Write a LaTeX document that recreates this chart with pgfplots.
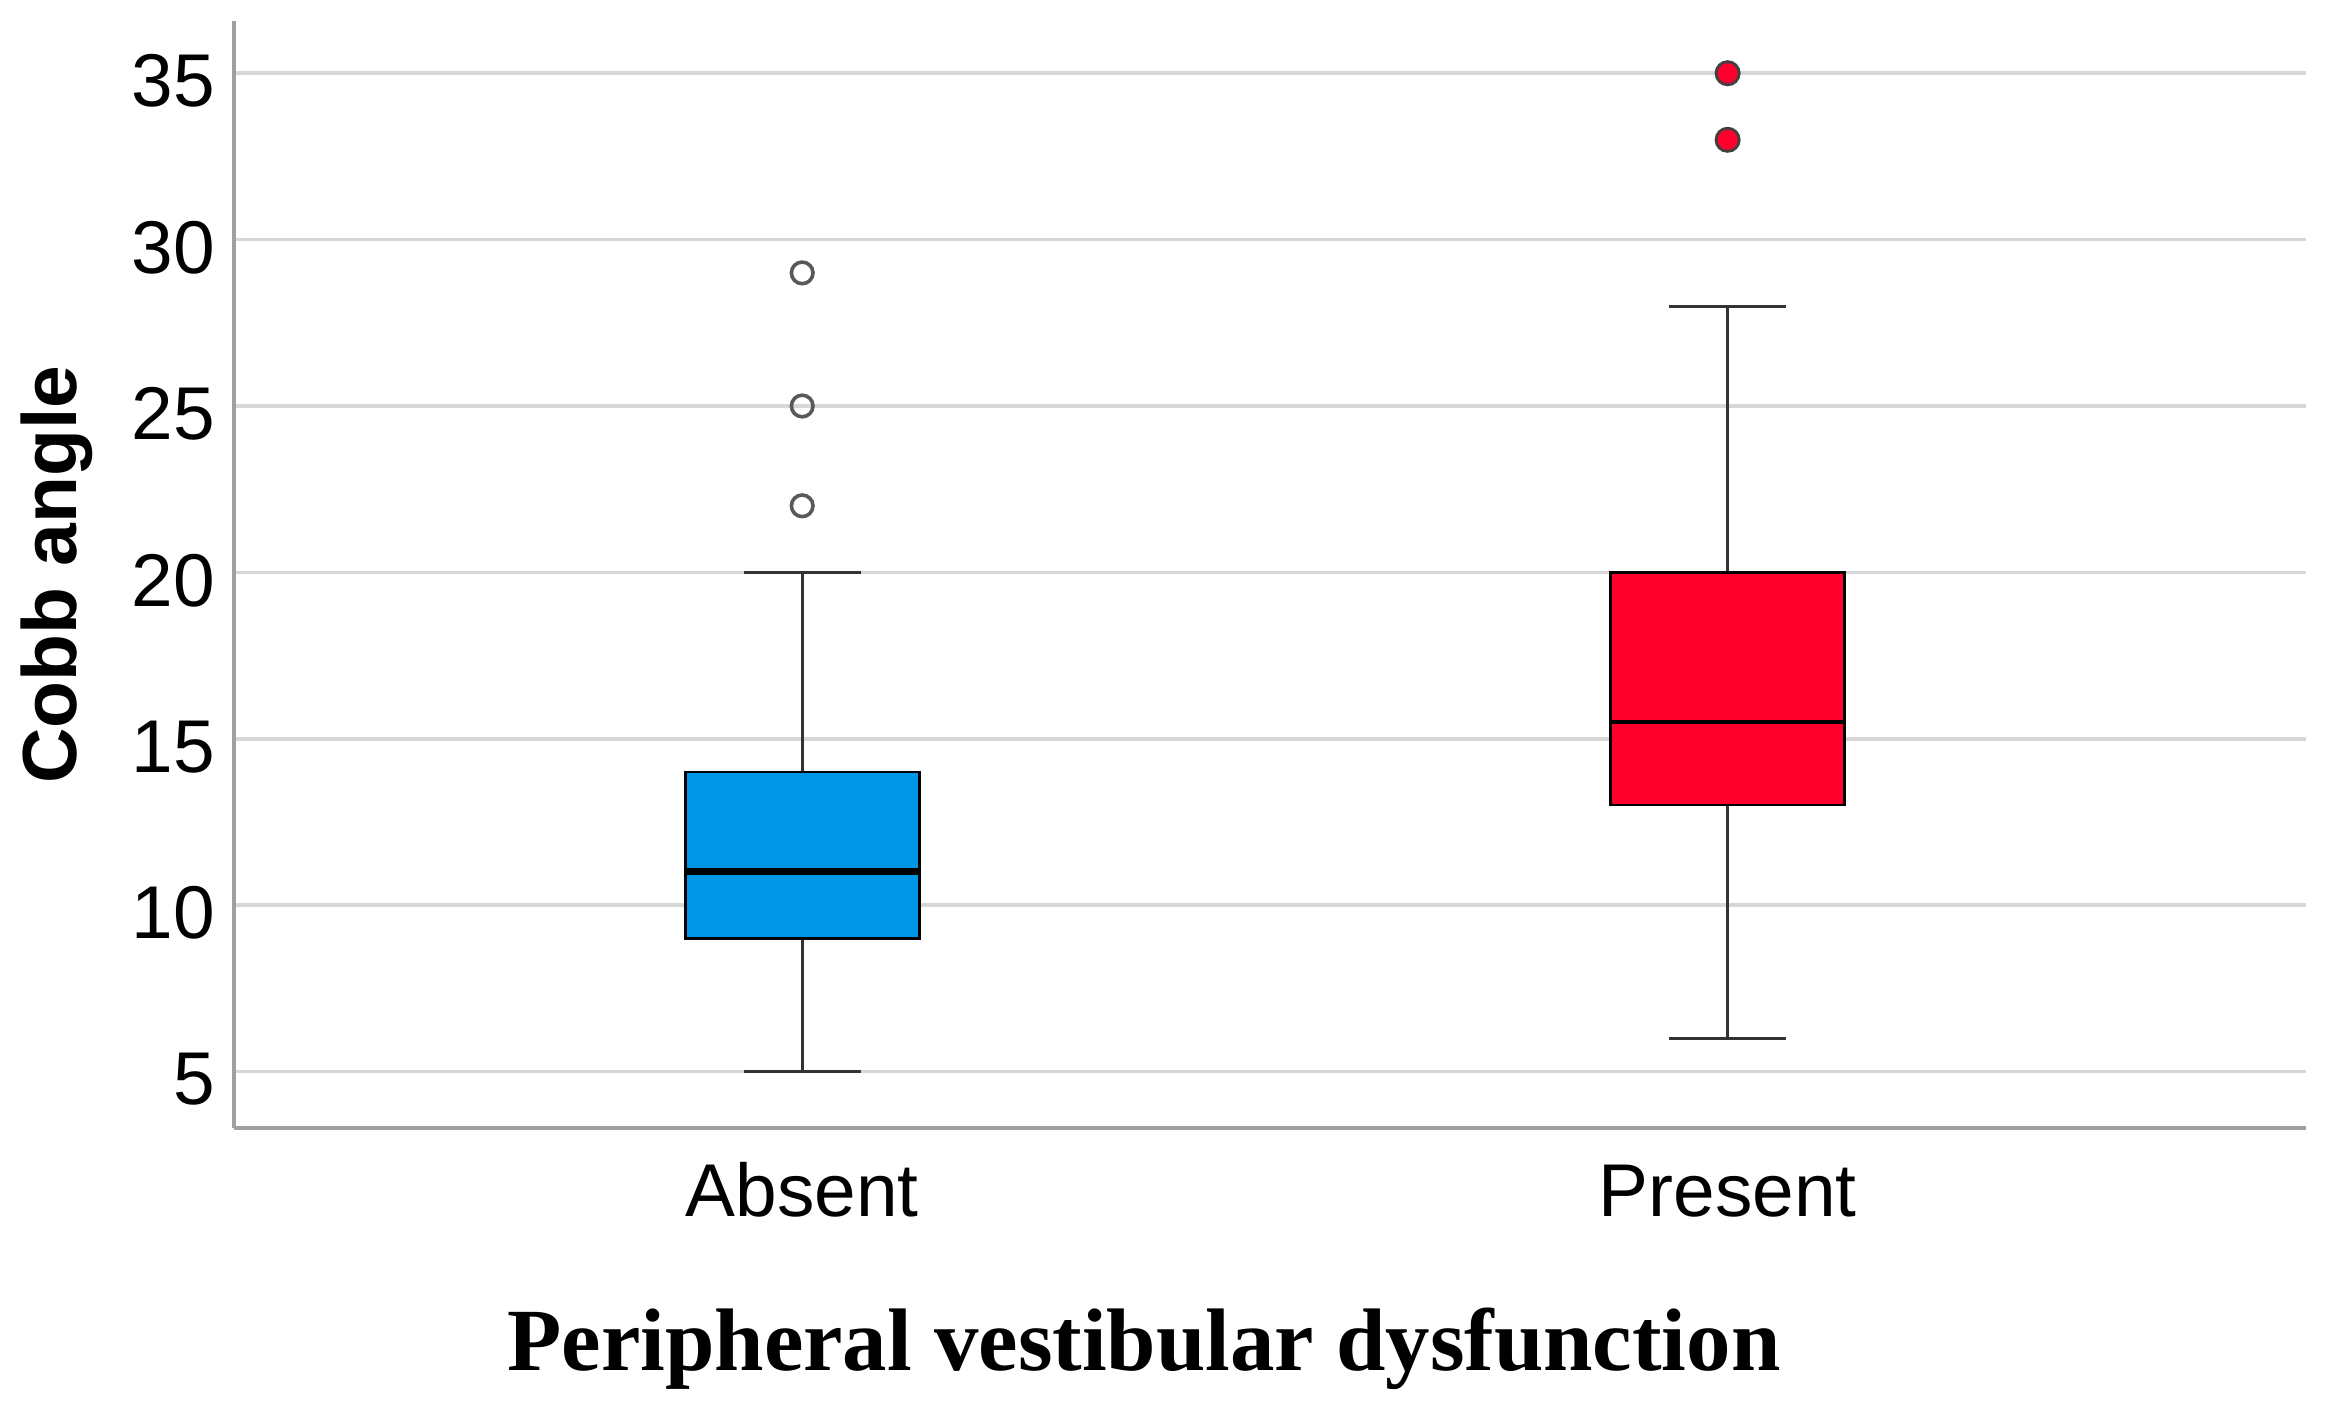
\documentclass[border=0pt]{standalone}
\usepackage{pgfplots}
\pgfplotsset{compat=1.18}
\usepgfplotslibrary{statistics}
\usepackage{fontspec}
\setmainfont{Liberation Sans}
\newfontfamily\labelserif{Liberation Serif}

\definecolor{boxblue}{RGB}{0,150,230}
\definecolor{boxred}{RGB}{255,0,45}
\definecolor{gridgray}{RGB}{215,215,215}
\definecolor{axisgray}{RGB}{160,160,160}

\begin{document}
\begin{tikzpicture}
\begin{axis}[
    name=ax,
    scale only axis,
    width=518pt, height=276.75pt,
    xmin=0.386, xmax=2.625,
    ymin=3.30, ymax=36.57,
    boxplot/draw direction=y,
    axis lines*=left,
    axis line style={axisgray, line width=1pt},
    ytick={5,10,...,35},
    xtick={1,2},
    xticklabels={Absent,Present},
    major tick length=0pt,
    ymajorgrids,
    grid style={gridgray, line width=0.9pt},
    /pgf/number format/assume math mode=true,
    ticklabel style={font=\fontsize{18.7}{20}\selectfont},
    yticklabel style={inner sep=0pt, xshift=-4.5pt, yshift=-2pt},
    xticklabel style={anchor=base, yshift=-22pt},
    clip=false,
]
% Absent
\addplot[black, mark=o, mark size=2.7pt,
    mark options={draw=black!65, line width=0.9pt},
    boxplot/every box/.style={draw=black, fill=boxblue, line width=0.7pt},
    boxplot/every median/.style={black, line width=1.8pt},
    boxplot/every whisker/.style={black!80, line width=0.8pt},
    boxplot prepared={
        lower whisker=5, lower quartile=9, median=11,
        upper quartile=14, upper whisker=20,
        draw position=1, box extend=0.253, whisker extend=0.126}]
    coordinates {(0,22) (0,25) (0,29)};
% Present
\addplot[black, mark=*, mark size=2.9pt,
    mark options={draw=black!75, fill=boxred, line width=0.7pt},
    boxplot/every box/.style={draw=black, fill=boxred, line width=0.6pt},
    boxplot/every median/.style={black, line width=1.1pt},
    boxplot/every whisker/.style={black!80, line width=0.8pt},
    boxplot prepared={
        lower whisker=6, lower quartile=13, median=15.5,
        upper quartile=20, upper whisker=28,
        draw position=2, box extend=0.253, whisker extend=0.126}]
    coordinates {(0,33) (0,35)};
\end{axis}
\node[rotate=90, font=\bfseries\fontsize{19.2}{22}\selectfont]
    at ([xshift=-44.3pt]ax.west) {Cobb angle};
\node[anchor=base, font=\labelserif\bfseries\fontsize{22.2}{26}\selectfont]
    at ([xshift=227.5pt, yshift=-60.5pt]ax.south west) {Peripheral vestibular dysfunction};
\path ([xshift=-58.5pt, yshift=-68.5pt]ax.south west)
    rectangle ([xshift=5.25pt, yshift=5.25pt]ax.north east);
\end{tikzpicture}
\end{document}
